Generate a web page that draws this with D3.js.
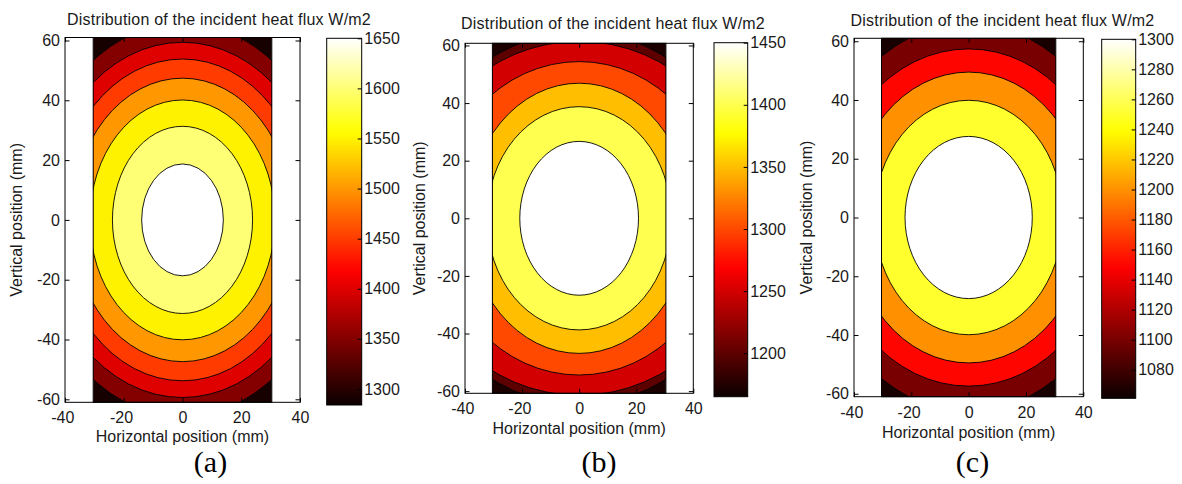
<!DOCTYPE html>
<html><head><meta charset="utf-8">
<script src="https://cdn.jsdelivr.net/npm/d3@7"></script>
<style>
html,body{margin:0;padding:0;background:#fff;}
svg{display:block;background:#fff;}
</style></head><body>
<svg id="chart" width="1182" height="484"></svg>
<script>
// ---------------- data ----------------
const panelTags = ["(a)", "(b)", "(c)"];
const titleText = "Distribution of the incident heat flux W/m2";
const xLabelText = "Horizontal position (mm)";
const yLabelText = "Vertical position (mm)";
const xTicks = [-40, -20, 0, 20, 40];
const yTicks = [-60, -40, -20, 0, 20, 40, 60];
const xLimits = [-40, 40];
const dataXExtent = [-30.4, 30.4];

// panel (a)
const yLimitsA = [-61, 61];
const climA = [1284, 1650];
const colorbarTicksA = [1300, 1350, 1400, 1450, 1500, 1550, 1600, 1650];
const cornerValueA = 1290;
const contourLevelsA = [1300, 1350, 1400, 1450, 1500, 1550, 1600];
const bandValuesA = [1350, 1400, 1450, 1500, 1550, 1600, 1650];
const contourHalfWidthA = [51.9, 48.0, 42.9, 37.6, 31.5, 23.85, 13.9];
const contourHalfHeightA = [65.8, 59.4, 53.8, 47.4, 40.1, 31.3, 18.7];

// panel (b)
const yLimitsB = [-60.75, 60.75];
const climB = [1165, 1450];
const colorbarTicksB = [1200, 1250, 1300, 1350, 1400, 1450];
const cornerValueB = 1172;
const contourLevelsB = [1175, 1200, 1250, 1300, 1350, 1400];
const bandValuesB = [1200, 1250, 1300, 1350, 1400, 1450];
const contourHalfWidthB = [60.4, 59.9, 49.85, 38.98, 32.26, 20.8];
const contourHalfHeightB = [64.7, 61.45, 54.4, 46.9, 38.75, 26.7];

// panel (c)
const yLimitsC = [-61, 61];
const climC = [1061, 1300];
const colorbarTicksC = [1080, 1100, 1120, 1140, 1160, 1180, 1200, 1220, 1240, 1260, 1280, 1300];
const cornerValueC = 1066;
const contourLevelsC = [1100, 1150, 1200, 1250, 1300];
const bandValuesC = [1100, 1150, 1200, 1250, 1300];
const contourHalfWidthC = [54.6, 49.4, 41.4, 32.9, 22.2];
const contourHalfHeightC = [66.0, 57.4, 49.5, 39.9, 27.6];

// ---------------- layout (pixels) ----------------
const layouts = [
  {axL: 65, axR: 300, axT: 37.5, axB: 402.3, cbL: 326.7, cbR: 361.7, cbT: 38.3, cbB: 405,
   titleX: 219, titleY: 25.3, yLabelX: 21.5, xLabelY: 442.3, tagX: 210.5, tagY: 472},
  {axL: 465, axR: 693.3, axT: 43.3, axB: 393.3, cbL: 714, cbR: 747.7, cbT: 42.7, cbB: 396.7,
   titleX: 613, titleY: 29.3, yLabelX: 425, xLabelY: 434.3, tagX: 599, tagY: 472},
  {axL: 854, axR: 1083.3, axT: 38.3, axB: 396.7, cbL: 1101.7, cbR: 1135.7, cbT: 39.3, cbB: 398.3,
   titleX: 1002.5, titleY: 26, yLabelX: 812, xLabelY: 437.7, tagX: 972.5, tagY: 472}
];

const panels = [
  {yLim: yLimitsA, clim: climA, cbTicks: colorbarTicksA, corner: cornerValueA, levels: contourLevelsA,
   bands: bandValuesA, rx: contourHalfWidthA, ry: contourHalfHeightA},
  {yLim: yLimitsB, clim: climB, cbTicks: colorbarTicksB, corner: cornerValueB, levels: contourLevelsB,
   bands: bandValuesB, rx: contourHalfWidthB, ry: contourHalfHeightB},
  {yLim: yLimitsC, clim: climC, cbTicks: colorbarTicksC, corner: cornerValueC, levels: contourLevelsC,
   bands: bandValuesC, rx: contourHalfWidthC, ry: contourHalfHeightC}
];

// MATLAB "hot" colormap as a d3 scale on [0,1]
const hotStops = [0, 23 / 63, 47 / 63, 1];
const hotColors = ["#0b0000", "#ff0000", "#ffff00", "#ffffff"];
const hot = d3.scaleLinear().domain(hotStops).range(hotColors).clamp(true);

const FONT = '"Liberation Sans", Arial, Helvetica, sans-serif';
const svg = d3.select("#chart");
const defs = svg.append("defs");
svg.append("rect").attr("width", 1182).attr("height", 484).attr("fill", "#fff");

const fmt = d => String(d);

function styleAxis(g) {
  g.select(".domain").remove();
  g.attr("font-family", FONT).attr("font-size", 16).attr("color", "#000");
  g.selectAll("text").attr("fill", "#1a1a1a");
  g.selectAll("line").attr("stroke-width", 1);
}

panels.forEach((p, idx) => {
  const L = layouts[idx];
  const g = svg.append("g");
  const x = d3.scaleLinear().domain(xLimits).range([L.axL, L.axR]);
  const y = d3.scaleLinear().domain(p.yLim).range([L.axB, L.axT]);
  const frac = d3.scaleLinear().domain(p.clim).range([0, 1]).clamp(true);
  const col = v => hot(frac(v));

  // clip to data extent
  const clipId = "clip" + idx;
  const x0 = x(dataXExtent[0]), x1 = x(dataXExtent[1]);
  defs.append("clipPath").attr("id", clipId).append("rect")
    .attr("x", x0).attr("y", L.axT).attr("width", x1 - x0).attr("height", L.axB - L.axT);

  const dg = g.append("g").attr("clip-path", `url(#${clipId})`);
  dg.append("rect").attr("x", x0).attr("y", L.axT).attr("width", x1 - x0).attr("height", L.axB - L.axT)
    .attr("fill", col(p.corner));
  dg.selectAll("ellipse").data(p.levels.map((lv, i) => ({lv, i}))).join("ellipse")
    .attr("cx", x(0)).attr("cy", y(0))
    .attr("rx", d => x(p.rx[d.i]) - x(0))
    .attr("ry", d => y(0) - y(p.ry[d.i]))
    .attr("fill", d => col(p.bands[d.i]))
    .attr("stroke", "#000").attr("stroke-width", 0.9);
  // outline of the data region
  g.append("rect").attr("x", x0).attr("y", L.axT).attr("width", x1 - x0).attr("height", L.axB - L.axT)
    .attr("fill", "none").attr("stroke", "#000").attr("stroke-width", 1);

  // axes (ticks inward)
  const bottom = g.append("g").attr("transform", `translate(0,${L.axB})`)
    .call(d3.axisBottom(x).tickValues(xTicks).tickFormat(fmt).tickSizeInner(-4.5).tickSizeOuter(0).tickPadding(9.6));
  styleAxis(bottom);
  bottom.selectAll("text").attr("dx", d => d < 0 ? -2.7 : 0);
  const top = g.append("g").attr("transform", `translate(0,${L.axT})`)
    .call(d3.axisTop(x).tickValues(xTicks).tickFormat("").tickSizeInner(-4.5).tickSizeOuter(0));
  styleAxis(top);
  const left = g.append("g").attr("transform", `translate(${L.axL},0)`)
    .call(d3.axisLeft(y).tickValues(yTicks).tickFormat(fmt).tickSizeInner(-4.5).tickSizeOuter(0).tickPadding(5));
  styleAxis(left);
  const right = g.append("g").attr("transform", `translate(${L.axR},0)`)
    .call(d3.axisRight(y).tickValues(yTicks).tickFormat("").tickSizeInner(-4.5).tickSizeOuter(0));
  styleAxis(right);
  g.append("rect").attr("x", L.axL).attr("y", L.axT).attr("width", L.axR - L.axL).attr("height", L.axB - L.axT)
    .attr("fill", "none").attr("stroke", "#000").attr("stroke-width", 1);

  // colorbar
  const gradId = "grad" + idx;
  const grad = defs.append("linearGradient").attr("id", gradId)
    .attr("x1", 0).attr("y1", 1).attr("x2", 0).attr("y2", 0);
  grad.selectAll("stop").data(d3.range(0, 1.0001, 0.02)).join("stop")
    .attr("offset", d => d).attr("stop-color", d => hot(d));
  const cb = d3.scaleLinear().domain(p.clim).range([L.cbB, L.cbT]);
  g.append("rect").attr("x", L.cbL).attr("y", L.cbT).attr("width", L.cbR - L.cbL).attr("height", L.cbB - L.cbT)
    .attr("fill", `url(#${gradId})`);
  const cbAxis = g.append("g").attr("transform", `translate(${L.cbR},0)`)
    .call(d3.axisRight(cb).tickValues(p.cbTicks).tickFormat(fmt).tickSizeInner(-4).tickSizeOuter(0).tickPadding(2.5));
  styleAxis(cbAxis);
  g.append("rect").attr("x", L.cbL).attr("y", L.cbT).attr("width", L.cbR - L.cbL).attr("height", L.cbB - L.cbT)
    .attr("fill", "none").attr("stroke", "#000").attr("stroke-width", 1);

  // texts
  g.append("text").attr("x", L.titleX).attr("y", L.titleY).attr("text-anchor", "middle")
    .attr("font-family", FONT).attr("font-size", 16).attr("letter-spacing", 0.2).attr("fill", "#1a1a1a").text(titleText);
  g.append("text").attr("x", (L.axL + L.axR) / 2).attr("y", L.xLabelY).attr("text-anchor", "middle")
    .attr("font-family", FONT).attr("font-size", 16).attr("fill", "#1a1a1a").text(xLabelText);
  g.append("text").attr("transform", `translate(${L.yLabelX},${(L.axT + L.axB) / 2}) rotate(-90)`)
    .attr("text-anchor", "middle")
    .attr("font-family", FONT).attr("font-size", 16).attr("fill", "#1a1a1a").text(yLabelText);
  g.append("text").attr("x", L.tagX).attr("y", L.tagY).attr("text-anchor", "middle")
    .attr("font-family", '"Liberation Serif", "Times New Roman", serif').attr("font-size", 30).attr("fill", "#000")
    .text(panelTags[idx]);
});
</script>
</body></html>
